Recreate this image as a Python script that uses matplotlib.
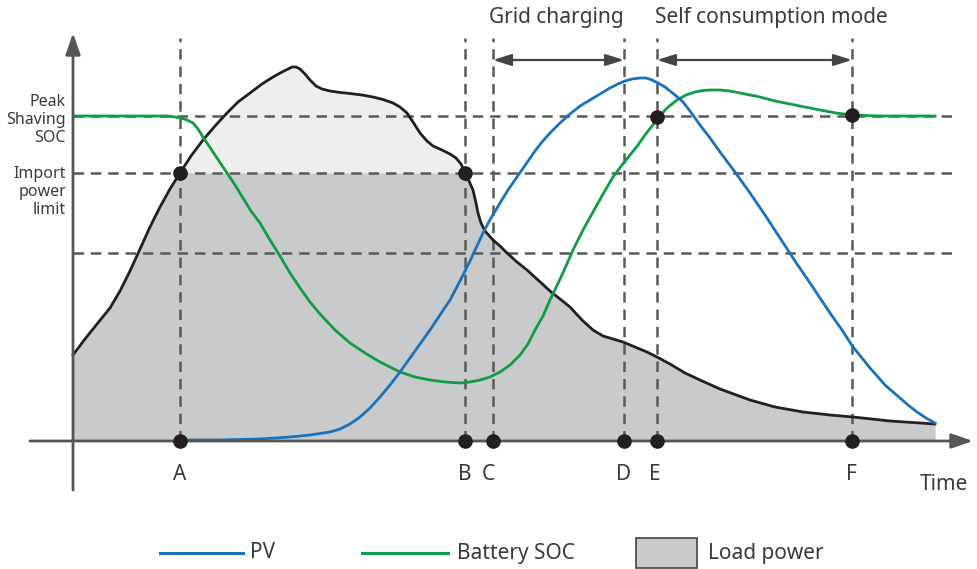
import matplotlib
matplotlib.use("Agg")
import matplotlib.pyplot as plt
import numpy as np
from matplotlib.patches import Rectangle

plt.rcParams['font.family'] = ['Noto Sans', 'DejaVu Sans']
plt.rcParams['lines.scale_dashes'] = False

# ---------------- data (x = time position, y = level above baseline) ----------------
load_x = [73, 85, 97, 110, 120, 130, 140, 150, 160, 170, 180, 191, 203, 215,
          227, 238, 250, 262, 273, 282, 288, 292, 296, 300, 305, 310, 316, 322, 330, 340, 350, 362,
          373, 383, 393, 400, 407, 413, 420, 427, 433, 442, 450, 456, 461, 465, 469, 473, 476, 478,
          481, 485, 493, 500, 507, 517, 527, 538, 550, 560, 570, 582, 593, 603, 613, 623, 635, 647,
          657, 670, 685, 700, 720, 750, 775, 803, 830, 853, 890, 935]
load_y = [86, 102, 117, 133, 150, 170, 192, 214, 234, 252, 268, 285, 301, 315,
          328, 339, 348, 357, 364, 369, 372, 374, 374, 372, 367, 361, 355, 352, 350, 348.5, 347.5, 346,
          344, 341.5, 338, 334, 328, 319, 308, 300, 295, 291, 287, 283, 277, 268, 260, 251, 238, 228,
          218, 210, 201, 195, 188, 179, 171, 161, 150, 142, 134, 121, 111, 105, 102, 99, 94, 89,
          84, 77, 68, 61, 52, 41, 34, 29, 26, 24, 20, 17]

pv_x = [180, 220, 260, 290, 310, 330, 340, 350, 360, 370, 380, 390, 400, 410, 420, 430, 440, 450,
        460, 470, 483, 491, 500, 508, 517, 526, 535, 542, 550, 560, 570, 580, 590, 600, 610, 618,
        625, 632, 640, 646, 652, 658, 665, 675, 683, 690, 700, 710, 720, 735, 750, 765, 780, 795,
        810, 820, 830, 842, 853, 862, 870, 878, 885, 893, 900, 908, 917, 926, 935]
pv_y = [1, 1, 2, 4, 6, 9, 12, 17, 24, 33, 44, 56, 69, 83, 97, 111, 126, 141,
        160, 180, 208, 223, 238, 251, 264, 277, 290, 299, 308, 318, 327, 335, 341, 347, 353, 357,
        360, 362, 363, 363, 361, 358, 354, 346, 339, 330, 316, 303, 289, 269, 248, 226, 203, 180,
        158, 143, 128, 111, 94, 83, 73, 64, 56, 49, 43, 36, 29, 23, 18]

soc_x = [75, 160, 168, 175, 181, 187, 193, 198, 203, 209, 215, 221, 227, 235, 243, 251, 260, 270,
         280, 290, 300, 310, 320, 335, 350, 365, 380, 390, 400, 415, 430, 445, 460, 470, 480, 490,
         500, 510, 520, 528, 535, 543, 550, 562, 573, 583, 593, 603, 613, 622, 630, 638, 645, 652,
         658, 667, 677, 686, 695, 703, 710, 720, 730, 745, 760, 775, 790, 805, 820, 836, 852, 866,
         880, 935]
soc_y = [325, 325, 325, 324, 323, 321, 318, 312, 304, 295, 286, 277, 268, 256, 243, 230, 218, 201,
         185, 168, 153, 139, 127, 111, 98, 88, 79, 74, 69, 64, 61, 59, 58, 59, 61, 64,
         69, 76, 86, 97, 111, 125, 141, 166, 191, 211, 229, 247, 264, 276, 286, 296, 306, 315,
         323, 333, 341, 346, 349, 350.5, 351, 351, 350, 347, 344, 340, 337, 334, 331, 328, 326, 325.5,
         325, 325]

peak_shaving_soc = 325
import_limit = 268
third_level = 188

event_names = ['A', 'B', 'C', 'D', 'E', 'F']
event_x = [180, 465, 493, 624, 657, 852]
event_label_x = [180, 465, 488, 624, 655, 851]
dots_on_curves_x = [180, 465, 657, 852]
dots_on_curves_y = [268, 268, 324, 326]

# ---------------- colours ----------------
C_BLUE = '#1a72bb'
C_GREEN = '#0e9c47'
C_BLACK = '#231f20'
C_DASH = '#595959'
C_AXIS = '#555555'
C_LIGHT = '#eeeeee'
C_DARK = '#c9cacc'
C_TEXT = '#3a3a3a'

fig = plt.figure(figsize=(9.77, 5.69), dpi=100)
ax = fig.add_axes([0, 0, 1, 1])
ax.set_xlim(0, 977)
ax.set_ylim(441 - 569, 441)
ax.axis('off')

lx = np.array(load_x, float)
ly = np.array(load_y, float)
ax.fill_between(lx, 0, ly, color=C_LIGHT, lw=0, zorder=1)
ax.fill_between(lx, 0, np.minimum(ly, import_limit), color=C_DARK, lw=0, zorder=2)

dash = (0, (7.5, 5))
for lvl in [peak_shaving_soc, import_limit, third_level]:
    ax.plot([73, 954], [lvl, lvl], color=C_DASH, lw=1.8, linestyle=dash, zorder=3)
for xv in event_x:
    ax.plot([xv, xv], [0, 403], color=C_DASH, lw=1.8, linestyle=dash, zorder=3)

ax.plot(load_x, load_y, color=C_BLACK, lw=2.0, zorder=5, solid_joinstyle='round')
ax.plot(soc_x, soc_y, color=C_GREEN, lw=2.0, zorder=6, solid_joinstyle='round')
ax.plot(pv_x, pv_y, color=C_BLUE, lw=2.0, zorder=7, solid_joinstyle='round')

# axes arrows
ax.annotate('', xy=(973, 0), xytext=(30, 0),
            arrowprops=dict(arrowstyle='-|>,head_length=1.3,head_width=0.45', color=C_AXIS,
                            lw=2.0, shrinkA=0, shrinkB=0), zorder=8)
ax.annotate('', xy=(73, 408), xytext=(73, -49),
            arrowprops=dict(arrowstyle='-|>,head_length=1.3,head_width=0.45', color=C_AXIS,
                            lw=2.0, shrinkA=0, shrinkB=0), zorder=8)

# dots
ax.plot(event_x, [0] * len(event_x), 'o', color=C_BLACK, ms=9.5, zorder=9)
ax.plot(dots_on_curves_x, dots_on_curves_y, 'o', color=C_BLACK, ms=9.5, zorder=9)

# mode arrows
arr = dict(arrowstyle='<|-|>,head_length=1.1,head_width=0.35', color='#444444', lw=1.6,
           shrinkA=0, shrinkB=0)
ax.annotate('', xy=(493, 381), xytext=(624, 381), arrowprops=arr, zorder=8)
ax.annotate('', xy=(657, 381), xytext=(852, 381), arrowprops=arr, zorder=8)
ax.text(556, 424, 'Grid charging', ha='center', va='center', fontsize=15, color=C_TEXT)
ax.text(771, 424, 'Self consumption mode', ha='center', va='center', fontsize=15, color=C_TEXT)

# event labels
for name, xl in zip(event_names, event_label_x):
    ax.text(xl, -33, name, ha='center', va='center', fontsize=15, color=C_TEXT)
ax.text(944, -44, 'Time', ha='center', va='center', fontsize=15, color=C_TEXT)

# y labels
ax.text(66, 321, 'Peak\nShaving\nSOC', ha='right', va='center', fontsize=11.5, color=C_TEXT,
        linespacing=1.2)
ax.text(66, 249, 'Import\npower\nlimit', ha='right', va='center', fontsize=11.5, color=C_TEXT,
        linespacing=1.2)

# legend
ly_leg = -112
ax.plot([160, 243], [ly_leg, ly_leg], color=C_BLUE, lw=2.2)
ax.text(250, ly_leg, 'PV', ha='left', va='center', fontsize=15, color=C_TEXT)
ax.plot([362, 448], [ly_leg, ly_leg], color=C_GREEN, lw=2.2)
ax.text(457, ly_leg, 'Battery SOC', ha='left', va='center', fontsize=15, color=C_TEXT)
ax.add_patch(Rectangle((636, -127), 61, 30, facecolor=C_DARK, edgecolor='#444444', lw=1.2))
ax.text(708, ly_leg, 'Load power', ha='left', va='center', fontsize=15, color=C_TEXT)

fig.savefig('out.png', dpi=100)
